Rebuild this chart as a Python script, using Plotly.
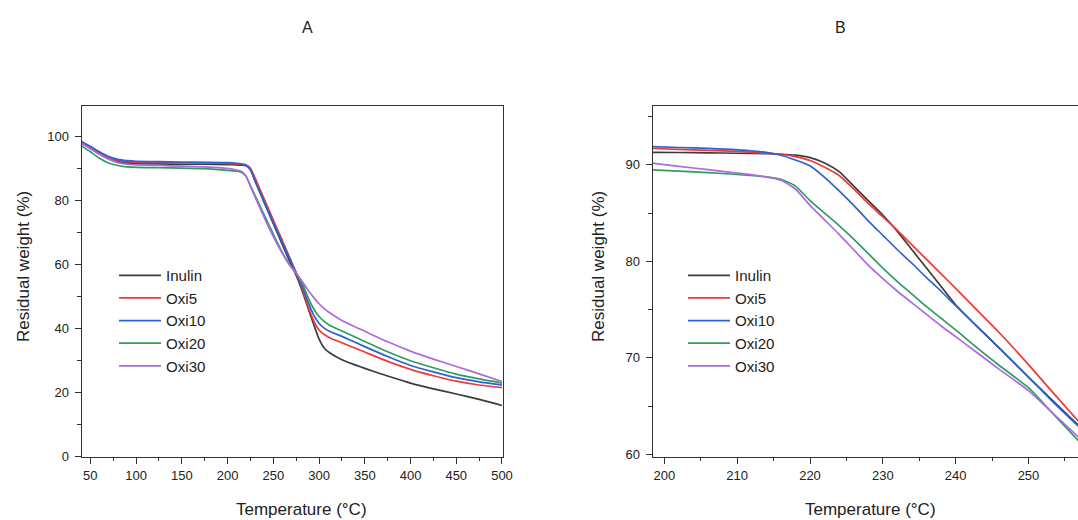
import plotly.graph_objects as go

# ---------------- Panel A data (full range) ----------------
temp_a = [40, 50, 60, 70, 80, 90, 100, 125, 150, 175, 200, 210, 215, 220, 225, 230, 240, 250, 260,
          268, 276, 282, 288, 294, 300, 306, 312, 325, 350, 375, 400, 425, 450, 475, 500]
inulin_a = [98.0, 96.4, 94.6, 93.1, 92.2, 91.8, 91.6, 91.5, 91.4, 91.4, 91.3, 91.2, 91.1, 90.9, 89.8, 86.3,
            79.5, 72.8, 66.2, 61.0, 56.0, 51.5, 46.5, 41.5, 36.8, 33.8, 32.4, 30.3, 27.6, 25.2, 23.0,
            21.2, 19.6, 17.9, 16.0]
oxi5_a = [98.3, 96.7, 95.0, 93.5, 92.6, 92.2, 92.0, 91.9, 91.8, 91.8, 91.7, 91.5, 91.4, 91.2, 90.2, 87.2,
          80.6, 74.0, 67.5, 62.2, 56.8, 52.3, 47.0, 42.6, 39.6, 38.1, 37.1, 35.6, 32.7, 29.8, 27.3,
          25.3, 23.6, 22.4, 21.6]
oxi10_a = [98.6, 97.0, 95.3, 93.8, 92.9, 92.5, 92.3, 92.2, 92.1, 92.0, 91.9, 91.7, 91.5, 91.1, 89.7, 86.2,
           79.7, 73.2, 66.8, 61.8, 56.9, 53.0, 48.4, 44.4, 41.7, 40.1, 39.1, 37.6, 34.4, 31.3, 28.5,
           26.5, 24.7, 23.4, 22.4]
oxi20_a = [97.2, 95.3, 93.3, 91.8, 91.0, 90.6, 90.4, 90.3, 90.2, 90.0, 89.5, 89.2, 88.9, 87.7, 84.8, 81.7,
           75.6, 69.6, 63.8, 60.0, 56.9, 54.0, 49.8, 46.3, 43.8, 42.2, 41.0, 39.3, 36.0, 32.8, 30.0,
           27.8, 25.8, 24.3, 23.0]
oxi30_a = [98.0, 96.3, 94.5, 93.0, 91.9, 91.4, 91.2, 91.0, 90.8, 90.6, 90.1, 89.6, 89.2, 87.8, 84.5, 81.2,
           74.8, 68.8, 63.5, 59.8, 57.0, 54.6, 52.1, 49.8, 47.8, 46.2, 44.9, 42.6, 39.2, 35.9, 33.0,
           30.5, 28.2, 25.9, 23.5]

# ---------------- Panel B data (zoom 198-257 °C) ----------------
temp_b = [198, 202, 206, 210, 214, 216, 218, 220, 222, 224, 226, 228, 230, 232, 234, 236, 238, 240,
          243, 246, 250, 253, 257]
inulin_b = [91.3, 91.28, 91.25, 91.2, 91.15, 91.1, 91.0, 90.75, 90.2, 89.3, 87.8, 86.3, 84.8, 83.1,
            81.2, 79.3, 77.4, 75.5, 73.2, 71.0, 68.0, 65.8, 62.9]
oxi5_b = [91.7, 91.6, 91.5, 91.4, 91.2, 91.1, 90.85, 90.45, 89.75, 88.9, 87.5, 86.0, 84.6, 83.2,
          81.7, 80.2, 78.7, 77.2, 74.9, 72.6, 69.3, 66.7, 63.3]
oxi10_b = [91.9, 91.8, 91.7, 91.55, 91.3, 91.0, 90.5, 89.9, 88.7, 87.3, 85.8, 84.2, 82.7, 81.2,
           79.8, 78.3, 76.9, 75.4, 73.2, 71.0, 68.0, 65.7, 62.8]
oxi20_b = [89.5, 89.35, 89.2, 89.0, 88.75, 88.5, 87.8, 86.3, 85.0, 83.7, 82.3, 80.8, 79.3, 77.9,
           76.6, 75.3, 74.1, 72.9, 71.0, 69.2, 66.9, 64.5, 61.3]
oxi30_b = [90.2, 89.85, 89.5, 89.15, 88.75, 88.4, 87.5, 85.8, 84.3, 82.8, 81.2, 79.6, 78.2, 76.9,
           75.7, 74.5, 73.3, 72.2, 70.5, 68.8, 66.6, 64.5, 61.7]

names = ["Inulin", "Oxi5", "Oxi10", "Oxi20", "Oxi30"]
colors = ["#3c3c3c", "#f03838", "#2a62d8", "#2e9e5e", "#ad6ae2"]
series_a = [inulin_a, oxi5_a, oxi10_a, oxi20_a, oxi30_a]
series_b = [inulin_b, oxi5_b, oxi10_b, oxi20_b, oxi30_b]

FONT = "Liberation Sans, Arial, sans-serif"
W, H = 1078, 520

fig = go.Figure()
for name, col, ya in zip(names, colors, series_a):
    fig.add_trace(go.Scatter(x=temp_a, y=ya, mode="lines", name=name,
                             line=dict(color=col, width=1.7, shape="spline", smoothing=0.5),
                             xaxis="x", yaxis="y", legend="legend"))
for name, col, yb in zip(names, colors, series_b):
    fig.add_trace(go.Scatter(x=temp_b, y=yb, mode="lines", name=name,
                             line=dict(color=col, width=1.7, shape="spline", smoothing=0.6),
                             xaxis="x2", yaxis="y2", legend="legend2"))

axis_common = dict(showline=True, linecolor="#333333", linewidth=1.3, ticks="outside",
                   ticklen=6, tickwidth=1.2, tickcolor="#333333", showgrid=False,
                   zeroline=False, automargin=False,
                   tickfont=dict(size=13, color="#222222", family=FONT))

y_dom = [63.3 / H, 414 / H]
minor_style = dict(ticks="outside", ticklen=3.5, tickcolor="#333333", tickwidth=1.1)

fig.update_layout(
    width=W, height=H, autosize=False,
    margin=dict(l=0, r=0, t=0, b=0, pad=0, autoexpand=False),
    paper_bgcolor="white", plot_bgcolor="white",
    font=dict(family=FONT, color="#222222"),
    xaxis=dict(domain=[81.7 / W, 503 / W], range=[40.6, 501.1], tick0=50, dtick=50,
               mirror=True, anchor="y", ticklabelstandoff=1,
               minor=dict(dtick=25, tick0=0, **minor_style), **axis_common),
    yaxis=dict(domain=y_dom, range=[0, 109.6], tick0=0, dtick=20, mirror=True, anchor="x",
               ticklabelstandoff=3,
               minor=dict(dtick=10, tick0=0, **minor_style), **axis_common),
    xaxis2=dict(domain=[652.7 / W, 1.0], range=[198.4, 256.8], tick0=200, dtick=10,
                mirror=True, anchor="y2", ticklabelstandoff=1,
                minor=dict(dtick=5, tick0=0, **minor_style), **axis_common),
    yaxis2=dict(domain=y_dom, range=[59.75, 96.1], tick0=60, dtick=10, mirror=False, anchor="x2",
                ticklabelstandoff=3,
                minor=dict(dtick=5, tick0=0, **minor_style), **axis_common),
    legend=dict(x=114 / W, y=1 - 259 / H, xanchor="left", yanchor="top", itemwidth=42,
                bgcolor="rgba(0,0,0,0)", font=dict(size=15.1, family=FONT, color="#222222"),
                tracegroupgap=0),
    legend2=dict(x=683 / W, y=1 - 259 / H, xanchor="left", yanchor="top", itemwidth=42,
                 bgcolor="rgba(0,0,0,0)", font=dict(size=15.1, family=FONT, color="#222222"),
                 tracegroupgap=0),
    showlegend=True,
)


def label(text, x, y, size=17, angle=0):
    fig.add_annotation(text=text, x=x / W, y=1 - y / H, xref="paper", yref="paper",
                       xanchor="center", yanchor="middle", showarrow=False, textangle=angle,
                       font=dict(size=size, family=FONT, color="#222222"))


label("A", 307, 27, size=16)
label("B", 840, 27, size=16)
label("Temperature (°C)", 301, 509)
label("Temperature (°C)", 870, 509)
label("Residual weight (%)", 23, 267, angle=-90)
label("Residual weight (%)", 598, 267, angle=-90)

fig.write_html(
    "out.html",
    config={"displayModeBar": False},
    post_script=(
        "document.documentElement.style.overflow='hidden';"
        "document.body.style.overflow='hidden';"
        "document.body.style.margin='0';"
        "document.body.style.padding='0';"
    ),
)
